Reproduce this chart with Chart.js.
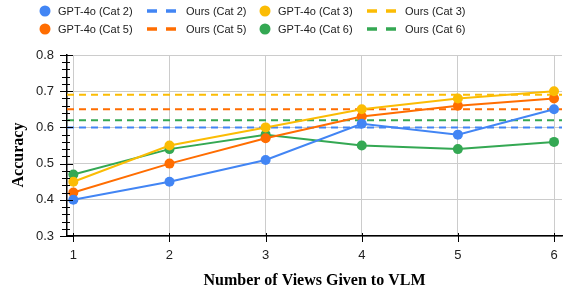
<!DOCTYPE html>
<html>
<head>
<meta charset="utf-8">
<script src="https://cdn.jsdelivr.net/npm/chart.js@4.4.1/dist/chart.umd.min.js"></script>
<style>
  html, body { margin: 0; padding: 0; background: #fff; }
  #wrap { width: 580px; height: 299px; position: relative; }
</style>
</head>
<body>
<div id="wrap"><canvas id="c" width="580" height="299"></canvas></div>
<script>
// ---- data ----
const views = [1, 2, 3, 4, 5, 6];
const gpt4oCat2 = [0.40, 0.45, 0.51, 0.61, 0.58, 0.65];
const gpt4oCat3 = [0.45, 0.55, 0.60, 0.65, 0.68, 0.70];
const gpt4oCat5 = [0.42, 0.50, 0.57, 0.63, 0.66, 0.68];
const gpt4oCat6 = [0.47, 0.54, 0.58, 0.55, 0.54, 0.56];
const oursCat2 = 0.60;
const oursCat3 = 0.69;
const oursCat5 = 0.65;
const oursCat6 = 0.62;
const yTicks = [0.3, 0.4, 0.5, 0.6, 0.7, 0.8];
const X_MIN = 0.934, X_MAX = 6.083;
const Y_MIN = 0.3, Y_MAX = 0.8;

const BLUE = '#4285F4', ORANGE = '#FF6D01', YELLOW = '#FBBC04', GREEN = '#34A853';

function pts(arr) { return views.map((v, i) => ({ x: v, y: arr[i] })); }
function flat(v) { return [{ x: X_MIN, y: v }, { x: X_MAX, y: v }]; }

function solid(label, arr, color) {
  return { label, data: pts(arr), borderColor: color, backgroundColor: color,
    borderWidth: 2, pointRadius: 5, pointHoverRadius: 5, pointBorderWidth: 0,
    tension: 0, order: 0, kind: 'point' };
}
function dashed(label, v, color) {
  return { label, data: flat(v), borderColor: color, backgroundColor: color,
    borderWidth: 2, borderDash: [7, 5], pointRadius: 0, tension: 0, order: 1, kind: 'dash' };
}

const datasets = [
  solid('GPT-4o (Cat 2)', gpt4oCat2, BLUE),
  dashed('Ours (Cat 2)', oursCat2, BLUE),
  solid('GPT-4o (Cat 3)', gpt4oCat3, YELLOW),
  dashed('Ours (Cat 3)', oursCat3, YELLOW),
  solid('GPT-4o (Cat 5)', gpt4oCat5, ORANGE),
  dashed('Ours (Cat 5)', oursCat5, ORANGE),
  solid('GPT-4o (Cat 6)', gpt4oCat6, GREEN),
  dashed('Ours (Cat 6)', oursCat6, GREEN),
];

const SANS = '"Liberation Sans", Arial, sans-serif';
const SERIF = '"Liberation Serif", "Times New Roman", serif';

const decor = {
  id: 'decor',
  afterDraw(chart) {
    const ctx = chart.ctx;
    const xs = chart.scales.x, ys = chart.scales.y;
    const area = chart.chartArea;
    ctx.save();
    ctx.strokeStyle = '#000';
    ctx.lineWidth = 1;
    // y ticks (major + minor), crossing the axis
    for (let k = 0; k <= 25; k++) {
      const v = Y_MIN + k * 0.02;
      const py = Math.round(ys.getPixelForValue(v)) + 0.5;
      const major = k % 5 === 0;
      ctx.beginPath();
      ctx.moveTo(area.left - (major ? 7 : 5), py);
      ctx.lineTo(area.left + (major ? 6 : 3), py);
      ctx.stroke();
    }
    // x ticks crossing axis
    views.forEach(v => {
      const px = Math.round(xs.getPixelForValue(v)) + 0.5;
      ctx.beginPath();
      ctx.moveTo(px, area.bottom - 3);
      ctx.lineTo(px, area.bottom + 6);
      ctx.stroke();
    });
    // y title
    ctx.fillStyle = '#000';
    ctx.font = 'bold 16px ' + SERIF;
    ctx.translate(19, 155);
    ctx.rotate(-Math.PI / 2);
    ctx.textAlign = 'center';
    ctx.textBaseline = 'middle';
    ctx.fillText('Accuracy', 0, 0);
    ctx.restore();

    // legend
    ctx.save();
    const cols = [[45, 58], [147, 186], [265, 278], [367, 405]];
    const rows = [11, 29];
    ctx.font = '11px ' + SANS;
    ctx.textBaseline = 'middle';
    ctx.textAlign = 'left';
    chart.data.datasets.forEach((ds, i) => {
      const c = cols[i % 4], y = rows[Math.floor(i / 4)];
      if (ds.kind === 'point') {
        ctx.fillStyle = ds.borderColor;
        ctx.beginPath();
        ctx.arc(c[0], y, 5.5, 0, Math.PI * 2);
        ctx.fill();
      } else {
        ctx.strokeStyle = ds.borderColor;
        ctx.lineWidth = 3.5;
        ctx.setLineDash([10, 9]);
        ctx.beginPath();
        ctx.moveTo(c[0], y);
        ctx.lineTo(c[0] + 29, y);
        ctx.stroke();
        ctx.setLineDash([]);
      }
      ctx.fillStyle = '#222';
      ctx.fillText(ds.label, c[1], y + 0.5);
    });
    ctx.restore();
  }
};

new Chart(document.getElementById('c'), {
  type: 'line',
  data: { datasets },
  options: {
    responsive: false,
    animation: false,
    devicePixelRatio: 1,
    layout: { padding: { top: 55, right: 18, left: 0, bottom: 0 } },
    plugins: { legend: { display: false }, tooltip: { enabled: false } },
    scales: {
      x: {
        type: 'linear', min: X_MIN, max: X_MAX,
        afterBuildTicks: s => { s.ticks = views.map(v => ({ value: v })); },
        afterFit: s => { s.height = 63; },
        grid: { color: '#cccccc', drawTicks: false, lineWidth: 1 },
        border: { color: '#000', width: 1.5 },
        ticks: { padding: 12, color: '#222', font: { family: SANS, size: 13 },
          callback: v => String(v) },
        title: { display: true, text: 'Number of Views Given to VLM', color: '#000',
          font: { family: SERIF, size: 16, weight: 'bold' }, padding: { top: 0, bottom: 9 } }
      },
      y: {
        min: Y_MIN, max: Y_MAX,
        afterBuildTicks: s => { s.ticks = yTicks.map(v => ({ value: v })); },
        afterFit: s => { s.width = 67; },
        grid: { color: '#cccccc', drawTicks: false, lineWidth: 1 },
        border: { color: '#000', width: 1.5 },
        ticks: { padding: 13, color: '#222', font: { family: SANS, size: 13 },
          callback: v => Number(v).toFixed(1) }
      }
    }
  },
  plugins: [decor]
});
</script>
</body>
</html>
